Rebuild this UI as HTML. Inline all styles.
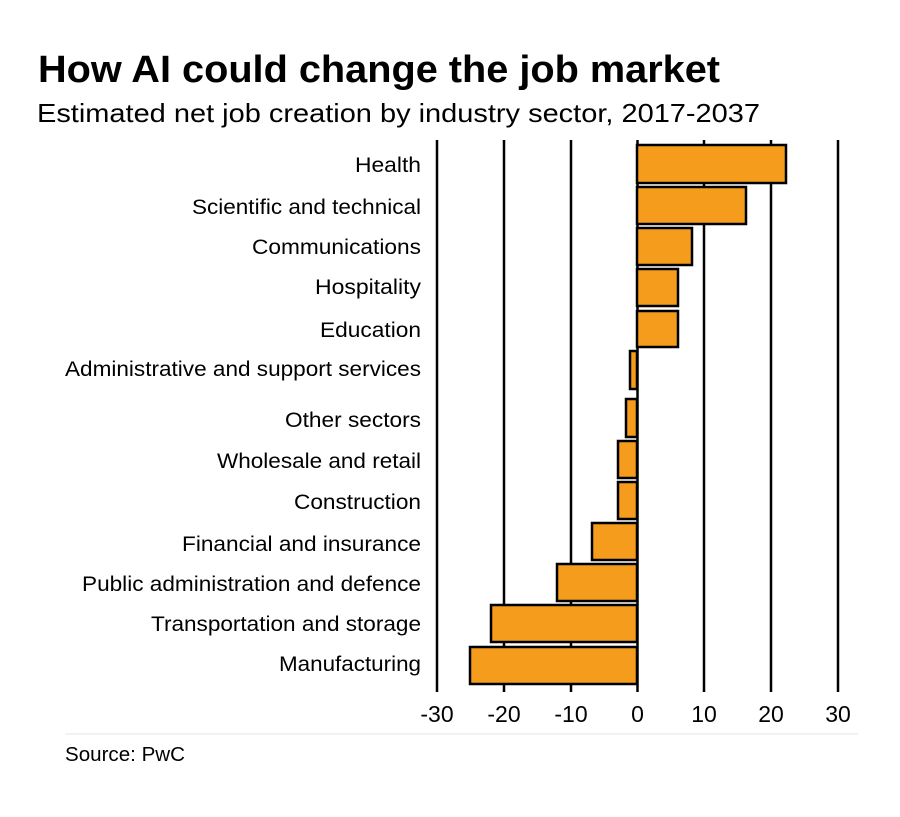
<!DOCTYPE html>
<html><head><meta charset="utf-8"><style>
body{margin:0;background:#fff;}
svg text{font-family:"Liberation Sans",Arial,sans-serif;fill:#000;}
</style></head><body>
<svg width="900" height="812" viewBox="0 0 900 812" xmlns="http://www.w3.org/2000/svg">
<rect width="900" height="812" fill="#fff"/>
<text x="38" y="82" font-size="38" font-weight="bold" textLength="682" lengthAdjust="spacingAndGlyphs">How AI could change the job market</text>
<text x="37" y="122" font-size="26" textLength="723" lengthAdjust="spacingAndGlyphs">Estimated net job creation by industry sector, 2017-2037</text>
<g stroke="#000" stroke-width="2.5">
<line x1="437" y1="140" x2="437" y2="692"/>
<line x1="504" y1="140" x2="504" y2="692"/>
<line x1="571" y1="140" x2="571" y2="692"/>
<line x1="637.5" y1="140" x2="637.5" y2="692"/>
<line x1="704" y1="140" x2="704" y2="692"/>
<line x1="771" y1="140" x2="771" y2="692"/>
<line x1="838" y1="140" x2="838" y2="692"/>
</g>
<g fill="#f59c1c" stroke="#000" stroke-width="2.5">
<rect x="637" y="145" width="149" height="38"/>
<rect x="637" y="187" width="109" height="37"/>
<rect x="637" y="228" width="55" height="37"/>
<rect x="637" y="269" width="41" height="37"/>
<rect x="637" y="311" width="41" height="36"/>
<rect x="630" y="351" width="7" height="38"/>
<rect x="626" y="399" width="11" height="38"/>
<rect x="618" y="441" width="19" height="37"/>
<rect x="618" y="482" width="19" height="37"/>
<rect x="592" y="523" width="45" height="37"/>
<rect x="557" y="564" width="80" height="37"/>
<rect x="491" y="605" width="146" height="37"/>
<rect x="470" y="647" width="167" height="37"/>
</g>
<g font-size="21" text-anchor="end">
<text x="421" y="172" textLength="66" lengthAdjust="spacingAndGlyphs">Health</text>
<text x="421" y="214" textLength="229" lengthAdjust="spacingAndGlyphs">Scientific and technical</text>
<text x="421" y="254" textLength="169" lengthAdjust="spacingAndGlyphs">Communications</text>
<text x="421" y="294" textLength="106" lengthAdjust="spacingAndGlyphs">Hospitality</text>
<text x="421" y="337" textLength="101" lengthAdjust="spacingAndGlyphs">Education</text>
<text x="421" y="376" textLength="356" lengthAdjust="spacingAndGlyphs">Administrative and support services</text>
<text x="421" y="427" textLength="136" lengthAdjust="spacingAndGlyphs">Other sectors</text>
<text x="421" y="468" textLength="204" lengthAdjust="spacingAndGlyphs">Wholesale and retail</text>
<text x="421" y="509" textLength="127" lengthAdjust="spacingAndGlyphs">Construction</text>
<text x="421" y="551" textLength="239" lengthAdjust="spacingAndGlyphs">Financial and insurance</text>
<text x="421" y="591" textLength="339" lengthAdjust="spacingAndGlyphs">Public administration and defence</text>
<text x="421" y="631" textLength="270" lengthAdjust="spacingAndGlyphs">Transportation and storage</text>
<text x="421" y="671" textLength="142" lengthAdjust="spacingAndGlyphs">Manufacturing</text>
</g>
<g font-size="23" text-anchor="middle">
<text x="437" y="722">-30</text>
<text x="504" y="722">-20</text>
<text x="571" y="722">-10</text>
<text x="637.5" y="722">0</text>
<text x="704" y="722">10</text>
<text x="771" y="722">20</text>
<text x="838" y="722">30</text>
</g>
<line x1="65" y1="734" x2="858" y2="734" stroke="#e6e6e6" stroke-width="1"/>
<text x="65" y="761" font-size="20" textLength="120" lengthAdjust="spacingAndGlyphs">Source: PwC</text>
</svg>
</body></html>
